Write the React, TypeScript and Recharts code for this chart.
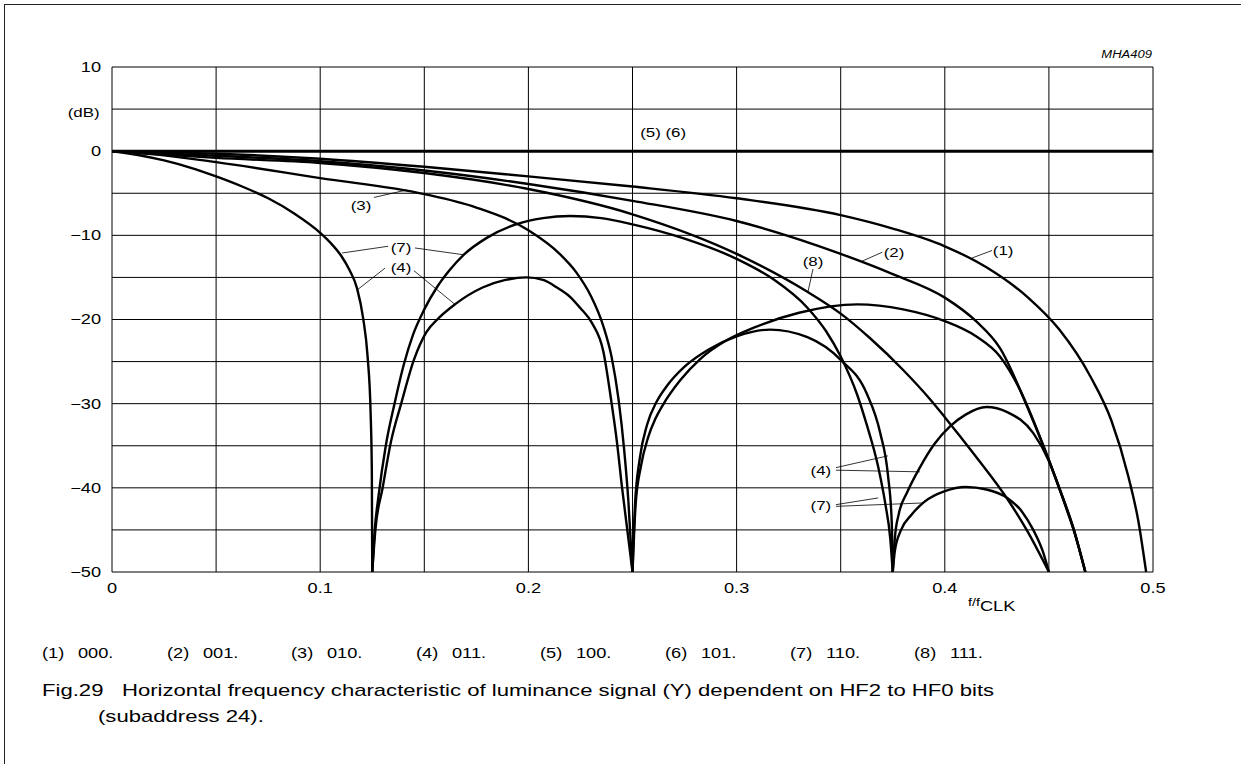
import { LineChart, Line, XAxis, YAxis, CartesianGrid, ReferenceLine, ReferenceDot } from 'recharts';

type Pt = [number, number];

// frequency (f/fCLK) vs gain (dB)
const flat56: Pt[] = [[0, 0], [0.5, 0]];

const c000: Pt[] = [
  [0, 0], [0.05, -0.3], [0.1, -0.9], [0.15, -1.85], [0.2, -3.0], [0.25, -4.2], [0.3, -5.6],
  [0.35, -7.6], [0.375, -9.2], [0.4, -11.3], [0.42, -13.8], [0.44, -17.4], [0.455, -21.2],
  [0.47, -26.8], [0.48, -32.0], [0.488, -38.5], [0.493, -44], [0.4967, -50],
];

const c001: Pt[] = [
  [0, 0], [0.05, -0.55], [0.1, -1.2], [0.15, -2.3], [0.2, -3.9], [0.25, -5.9], [0.3, -8.3],
  [0.35, -12.2], [0.375, -14.6], [0.4, -17.4], [0.415, -20.2], [0.4265, -23.4], [0.44, -30.6],
  [0.454, -39.4], [0.462, -45], [0.4675, -50],
];

const c111: Pt[] = [
  [0, 0], [0.05, -0.8], [0.1, -1.4], [0.15, -2.6], [0.2, -4.5], [0.25, -7.5], [0.3, -12.2],
  [0.334, -16.7], [0.35, -19.3], [0.364, -22.2], [0.38, -26], [0.393, -29.5], [0.4, -31.6],
  [0.415, -36.3], [0.43, -41.3], [0.44, -45.3], [0.45, -50],
];

const c010Main: Pt[] = [
  [0, 0], [0.025, -0.5], [0.05, -1.3], [0.1, -3.2], [0.15, -5.1], [0.175, -6.7], [0.2, -9.4],
  [0.215, -12.2], [0.223, -14.4], [0.23, -17.2], [0.236, -20.8], [0.24, -24.5], [0.2433, -29.5],
  [0.246, -35.5], [0.248, -41.5], [0.25, -50],
];
const c010Lobe: Pt[] = [
  [0.25, -50], [0.2515, -42], [0.254, -37.5], [0.2575, -34], [0.261, -31.8], [0.2645, -30.2],
  [0.273, -27.2], [0.2825, -24.7], [0.295, -22.5], [0.308, -21], [0.33, -19.2], [0.358, -18.2],
  [0.38, -18.8], [0.4, -20.2], [0.415, -22.0], [0.4265, -24.4], [0.436, -28.3], [0.445, -33.5],
  [0.455, -40], [0.462, -45], [0.4675, -50],
];

// (4) and (7) share the first lobe
const c0xxFirst: Pt[] = [
  [0, 0], [0.0125, -0.45], [0.025, -1.1], [0.0375, -1.95], [0.05, -3.0], [0.0625, -4.2],
  [0.075, -5.6], [0.0875, -7.4], [0.1, -9.7], [0.105, -10.9], [0.11, -12.4], [0.114, -14.1],
  [0.1177, -16.3], [0.1206, -19.8], [0.1228, -24.5], [0.1242, -31], [0.1248, -38], [0.125, -50],
];

const c011Lobe2: Pt[] = [
  [0.125, -50], [0.1265, -45], [0.13, -40], [0.134, -34.5], [0.139, -29.9], [0.145, -24.8],
  [0.151, -21.5], [0.157, -19.8], [0.1647, -18.2], [0.178, -16.2], [0.189, -15.3], [0.199, -15.0],
  [0.207, -15.3], [0.2137, -16.2], [0.22, -17.3], [0.2248, -18.6], [0.2305, -20.4], [0.236, -23.8],
  [0.2397, -29.5], [0.2425, -34.5], [0.245, -40], [0.2475, -45], [0.25, -50],
];
const c011Lobe3: Pt[] = [
  [0.25, -50], [0.2512, -42], [0.2535, -36.5], [0.257, -32.5], [0.2615, -29.8], [0.2665, -27.9],
  [0.275, -25.6], [0.287, -23.5], [0.3, -22], [0.316, -21.2], [0.334, -22.1], [0.35, -24.8],
  [0.3625, -28.8], [0.369, -33.5], [0.3727, -38.5], [0.3745, -44], [0.375, -50],
];
const c011Lobe4: Pt[] = [
  [0.375, -50], [0.376, -46], [0.378, -43], [0.382, -40.5], [0.388, -37.6], [0.395, -34.8],
  [0.4025, -32.7], [0.41, -31.3], [0.42, -30.4], [0.43, -31], [0.4425, -33.5], [0.45, -36.8],
  [0.457, -41.5], [0.4625, -45.5], [0.4675, -50],
];

const c110Lobe2: Pt[] = [
  [0.125, -50], [0.1262, -45], [0.128, -41], [0.1315, -35], [0.1358, -29.9], [0.14, -25.5],
  [0.1446, -21.8], [0.15, -18.8], [0.156, -16.2], [0.1623, -14.1], [0.169, -12.3], [0.18, -10.3],
  [0.194, -8.7], [0.207, -7.95], [0.22, -7.7], [0.235, -7.95], [0.25, -8.7], [0.275, -10.4],
  [0.3, -12.8], [0.3175, -15.2], [0.334, -18.6], [0.343, -21.4], [0.35, -24.4], [0.358, -29],
  [0.3625, -32.5], [0.368, -37.5], [0.3715, -42], [0.3738, -46], [0.375, -50],
];
const c110Lobe3: Pt[] = [
  [0.375, -50], [0.376, -47.5], [0.379, -45], [0.384, -43.2], [0.39, -41.7], [0.4, -40.4],
  [0.41, -39.9], [0.42, -40.2], [0.43, -41.2], [0.437, -42.8], [0.4425, -45], [0.447, -47.5],
  [0.45, -50],
];

const SERIES: { key: string; pts: Pt[]; w: number }[] = [
  { key: 's56', pts: flat56, w: 3 },
  { key: 's1', pts: c000, w: 2.4 },
  { key: 's2', pts: c001, w: 2.4 },
  { key: 's8', pts: c111, w: 2.4 },
  { key: 's3a', pts: c010Main, w: 2.4 },
  { key: 's3b', pts: c010Lobe, w: 2.4 },
  { key: 's47a', pts: c0xxFirst, w: 2.4 },
  { key: 's4b', pts: c011Lobe2, w: 2.4 },
  { key: 's4c', pts: c011Lobe3, w: 2.4 },
  { key: 's4d', pts: c011Lobe4, w: 2.4 },
  { key: 's7b', pts: c110Lobe2, w: 2.4 },
  { key: 's7c', pts: c110Lobe3, w: 2.4 },
];

const X_TICKS = [0, 0.05, 0.1, 0.15, 0.2, 0.25, 0.3, 0.35, 0.4, 0.45, 0.5];
const Y_TICKS = [-50, -45, -40, -35, -30, -25, -20, -15, -10, -5, 0, 5, 10];

// curve labels and their leader lines, in chart units
const LABELS: { t: string; x: number; y: number }[] = [
  { t: '(5) (6)', x: 0.2647, y: 2.2 },
  { t: '(1)', x: 0.428, y: -11.8 },
  { t: '(2)', x: 0.3756, y: -12.0 },
  { t: '(8)', x: 0.3367, y: -13.1 },
  { t: '(3)', x: 0.1196, y: -6.5 },
  { t: '(7)', x: 0.1388, y: -11.4 },
  { t: '(4)', x: 0.1388, y: -13.8 },
  { t: '(4)', x: 0.3405, y: -37.9 },
  { t: '(7)', x: 0.3405, y: -42.1 },
];

const LEADERS: [Pt, Pt][] = [
  [[0.4227, -11.8], [0.413, -12.7]],
  [[0.37, -12.0], [0.36, -13.1]],
  [[0.3367, -14.0], [0.3343, -16.7]],
  [[0.1258, -5.5], [0.1417, -4.6]],
  [[0.1326, -11.3], [0.1105, -12.1]],
  [[0.1455, -11.5], [0.1686, -12.3]],
  [[0.1311, -13.9], [0.1177, -16.5]],
  [[0.145, -14.2], [0.1647, -18.2]],
  [[0.3477, -37.6], [0.3727, -36.2]],
  [[0.3477, -37.9], [0.388, -38.1]],
  [[0.3477, -42.0], [0.368, -41.2]],
  [[0.3477, -42.2], [0.3895, -41.8]],
];

const LEGEND_KEYS = ['(1)', '(2)', '(3)', '(4)', '(5)', '(6)', '(7)', '(8)'];
const LEGEND_BITS = ['000.', '001.', '010.', '011.', '100.', '101.', '110.', '111.'];

const FONT = '"Liberation Sans", Arial, Helvetica, sans-serif';
const SX = 1.3; // the scanned figure is stretched sideways

const fmtX = (v: number) => (Math.abs(v * 10 - Math.round(v * 10)) < 1e-6 ? String(Math.round(v * 10) / 10) : '');
const fmtY = (v: number) => (v % 10 === 0 ? (v < 0 ? '\u2212' + Math.abs(v) : String(v)) : '');

const XTick = (p: any) => (
  <text transform={`translate(${p.x},${p.y}) scale(${SX},1)`} textAnchor="middle" dy="0.71em" fontSize={14} fontFamily={FONT} fill="#000">
    {fmtX(p.payload.value)}
  </text>
);
const YTick = (p: any) => (
  <text transform={`translate(${p.x},${p.y}) scale(${SX},1)`} textAnchor="end" dy="0.355em" fontSize={14} fontFamily={FONT} fill="#000">
    {fmtY(p.payload.value)}
  </text>
);

const stretch = (origin: string) => ({ transform: `scaleX(${SX})`, transformOrigin: origin, whiteSpace: 'pre' as const });

export default function App() {
  return (
    <div style={{ position: 'absolute', left: 0, top: 0, width: 1241, height: 764, background: '#fff', fontFamily: FONT, color: '#000', overflow: 'hidden' }}>
      <div style={{ position: 'absolute', left: 4, top: 4, right: -2, bottom: -2, borderTop: '1.5px solid #222', borderLeft: '1.5px solid #222' }} />

      <div style={{ position: 'absolute', left: 0, top: 0 }}>
        <LineChart width={1241} height={764} margin={{ top: 67, right: 88, bottom: 162, left: 52 }}>
          <CartesianGrid stroke="#000" strokeWidth={1} vertical horizontal />
          <XAxis
            type="number" dataKey="x" domain={[0, 0.5]} ticks={X_TICKS} tick={XTick}
            allowDataOverflow axisLine={false} tickLine={false} tickSize={0} tickMargin={11} height={30} interval={0}
          />
          <YAxis
            type="number" domain={[-50, 10]} ticks={Y_TICKS} tick={YTick}
            allowDataOverflow axisLine={false} tickLine={false} tickSize={0} tickMargin={11} width={60} interval={0}
          />
          {SERIES.map((s) => (
            <Line
              key={s.key} data={s.pts.map(([x, y]) => ({ x, y }))} dataKey="y" type="monotone"
              stroke="#000" strokeWidth={s.w} dot={false} activeDot={false} isAnimationActive={false}
            />
          ))}
          {LEADERS.map((seg, i) => (
            <ReferenceLine
              key={'l' + i} segment={[{ x: seg[0][0], y: seg[0][1] }, { x: seg[1][0], y: seg[1][1] }]}
              stroke="#000" strokeWidth={0.8}
            />
          ))}
          {LABELS.map((l, i) => (
            <ReferenceDot
              key={'t' + i} x={l.x} y={l.y} r={0}
              shape={(p: any) => (
                <text transform={`translate(${p.cx},${p.cy}) scale(${SX},1)`} textAnchor="middle" dy="0.355em" fontSize={13} fontFamily={FONT} fill="#000">
                  {l.t}
                </text>
              )}
            />
          ))}
        </LineChart>
      </div>

      <div style={{ position: 'absolute', right: 1241 - 1152, top: 49, fontSize: 10, fontStyle: 'italic', ...stretch('right center') }}>MHA409</div>
      <div style={{ position: 'absolute', right: 1241 - 100, top: 105, fontSize: 13, ...stretch('right center') }}>(dB)</div>
      <div style={{ position: 'absolute', left: 968, top: 592, ...stretch('left center') }}>
        <span style={{ fontSize: 11 }}>f/f</span>
        <span style={{ fontSize: 14, position: 'relative', top: 5 }}>CLK</span>
      </div>

      {LEGEND_KEYS.map((k, i) => (
        <div key={k} style={{ position: 'absolute', left: 42 + i * 124.6, top: 645, fontSize: 14, width: 60 }}>
          <span style={{ position: 'absolute', left: 0, ...stretch('left center') }}>{k}</span>
          <span style={{ position: 'absolute', left: 36, ...stretch('left center') }}>{LEGEND_BITS[i]}</span>
        </div>
      ))}
      <div style={{ position: 'absolute', left: 42, top: 681, fontSize: 17, ...stretch('left center') }}>Fig.29</div>
      <div style={{ position: 'absolute', left: 122, top: 681, fontSize: 17, ...stretch('left center') }}>
        Horizontal frequency characteristic of luminance signal (Y) dependent on HF2 to HF0 bits
      </div>
      <div style={{ position: 'absolute', left: 98, top: 707, fontSize: 17, ...stretch('left center') }}>(subaddress 24).</div>
    </div>
  );
}
